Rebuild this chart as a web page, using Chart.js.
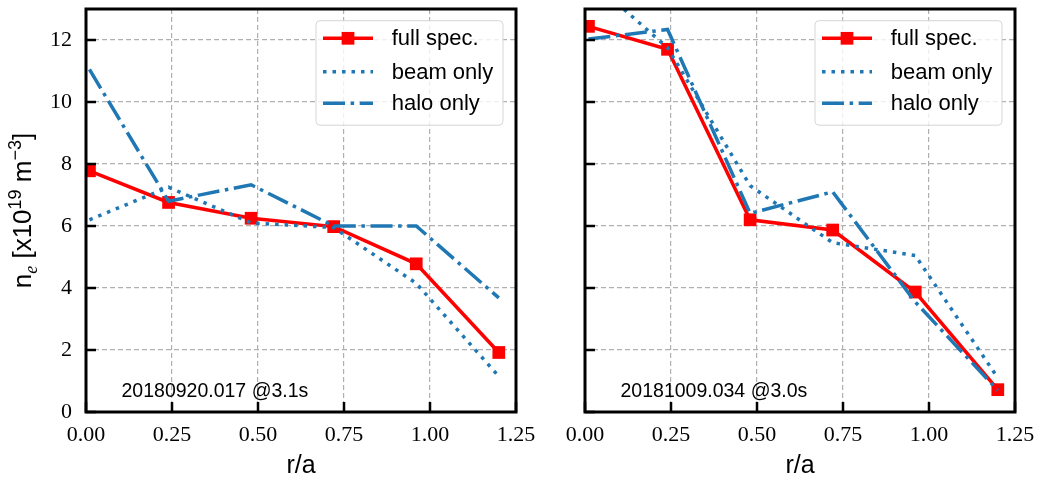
<!DOCTYPE html>
<html>
<head>
<meta charset="utf-8">
<title>Density profiles</title>
<script src="https://cdn.jsdelivr.net/npm/chart.js@4"></script>
<style>
  html, body { margin: 0; padding: 0; background: #ffffff; }
  #wrap { position: relative; width: 1040px; height: 486px; overflow: hidden; }
  canvas { position: absolute; top: 0; }
</style>
</head>
<body>
<div id="wrap">
  <canvas id="panelA" width="540" height="486" style="left:0px"></canvas>
  <canvas id="panelB" width="500" height="486" style="left:540px"></canvas>
</div>
<script>
// Normalised radius r/a of the measurement channels
const radius = [0.01, 0.24, 0.48, 0.72, 0.96, 1.20];

// Shot 20180920.017 at 3.1 s, n_e in 1e19 m^-3
const shotA = '20180920.017 @3.1s';
const fullA = [7.78, 6.76, 6.25, 5.98, 4.78, 1.92];
const beamA = [6.20, 7.25, 6.10, 5.95, 4.15, 1.15];
const haloA = [11.05, 6.80, 7.33, 6.00, 6.00, 3.68];

// Shot 20181009.034 at 3.0 s
const shotB = '20181009.034 @3.0s';
const fullB = [12.44, 11.70, 6.20, 5.87, 3.87, 0.72];
const beamB = [14.00, 11.75, 7.30, 5.46, 5.05, 1.10];
const haloB = [12.03, 12.34, 6.41, 7.10, 3.55, 0.70];

const seriesNames = ['full spec.', 'beam only', 'halo only'];
const xTicks = [0, 0.25, 0.5, 0.75, 1.0, 1.25];
const xTickLabels = ['0.00', '0.25', '0.50', '0.75', '1.00', '1.25'];
const yTicks = [0, 2, 4, 6, 8, 10, 12];
const yTickLabels = ['0', '2', '4', '6', '8', '10', '12'];
const xTitle = 'r/a';

const RED = '#ff0000';
const BLUE = '#1f77b4';
const GRID = '#b0b0b0';
const SANS = '"Liberation Sans", Arial, sans-serif';
const SERIF = '"Liberation Serif", "Times New Roman", serif';

function makeDatasets(full, beam, halo) {
  const pts = arr => radius.map((r, i) => ({ x: r, y: arr[i] }));
  return [
    { label: seriesNames[0], data: pts(full), borderColor: RED, backgroundColor: RED,
      borderWidth: 3.5, pointStyle: 'rect', pointRadius: 9, pointBackgroundColor: RED,
      pointBorderWidth: 0, pointHoverRadius: 9, order: 3 },
    { label: seriesNames[1], data: pts(beam), borderColor: BLUE, backgroundColor: BLUE,
      borderWidth: 3.5, borderDash: [3.5, 6], pointRadius: 0, pointHoverRadius: 0, order: 2 },
    { label: seriesNames[2], data: pts(halo), borderColor: BLUE, backgroundColor: BLUE,
      borderWidth: 3.5, borderDash: [22, 5.6, 3.5, 5.6], pointRadius: 0, pointHoverRadius: 0, order: 1 }
  ];
}

// Frame, inward ticks, shot label, legend and (optionally) the y-axis title
const panelDecor = {
  id: 'panelDecor',
  afterDraw(chart, args, opts) {
    const ctx = chart.ctx;
    const a = chart.chartArea;
    const xs = chart.scales.x, ys = chart.scales.y;
    ctx.save();

    // inward major ticks on bottom and left
    ctx.strokeStyle = '#000';
    ctx.lineWidth = 2.5;
    ctx.beginPath();
    xs.ticks.forEach(t => {
      const px = xs.getPixelForValue(t.value);
      ctx.moveTo(px, a.bottom); ctx.lineTo(px, a.bottom - 10);
    });
    ys.ticks.forEach(t => {
      const py = ys.getPixelForValue(t.value);
      ctx.moveTo(a.left, py); ctx.lineTo(a.left + 10, py);
    });
    ctx.stroke();

    // axes frame
    ctx.lineWidth = 3;
    ctx.strokeRect(a.left, a.top, a.right - a.left, a.bottom - a.top);

    // shot label
    ctx.fillStyle = '#000';
    ctx.font = '19.5px ' + SANS;
    ctx.textAlign = 'left';
    ctx.textBaseline = 'alphabetic';
    ctx.fillText(opts.shot, a.left + 35.5, a.bottom - 15.3);

    // legend box
    const bw = 187, bh = 104.5;
    const bx = a.right - 13 - bw, by = a.top + 11.7;
    ctx.beginPath();
    ctx.roundRect(bx, by, bw, bh, 4);
    ctx.fillStyle = 'rgba(255,255,255,0.8)';
    ctx.fill();
    ctx.lineWidth = 1;
    ctx.strokeStyle = '#d6d6d6';
    ctx.stroke();

    const rows = [17.6, 51, 82.6];
    chart.data.datasets.forEach((ds, i) => {
      const cy = by + rows[i];
      ctx.save();
      ctx.strokeStyle = ds.borderColor;
      ctx.lineWidth = ds.borderWidth;
      ctx.setLineDash(ds.borderDash || []);
      ctx.beginPath();
      ctx.moveTo(bx + 7, cy); ctx.lineTo(bx + 57, cy);
      ctx.stroke();
      ctx.restore();
      if (ds.pointRadius > 0) {
        const s = ds.pointRadius * Math.SQRT1_2;
        ctx.fillStyle = ds.pointBackgroundColor;
        ctx.fillRect(bx + 32 - s, cy - s, 2 * s, 2 * s);
      }
      ctx.fillStyle = '#000';
      ctx.font = '22px ' + SANS;
      ctx.textBaseline = 'middle';
      ctx.fillText(ds.label, bx + 75.7, cy + 1);
    });

    // y-axis title with sub/superscripts
    if (opts.yTitle) {
      const parts = [
        { t: 'n', f: '26px ' + SANS, d: 0 },
        { t: 'e', f: 'italic 18px ' + SERIF, d: 6 },
        { t: ' [x10', f: '26px ' + SANS, d: 0 },
        { t: '19', f: '18px ' + SANS, d: -10 },
        { t: ' m', f: '26px ' + SANS, d: 0 },
        { t: '\u22123', f: '18px ' + SANS, d: -10 },
        { t: ']', f: '26px ' + SANS, d: 0 }
      ];
      let total = 0;
      parts.forEach(p => { ctx.font = p.f; p.w = ctx.measureText(p.t).width; total += p.w; });
      ctx.translate(31, (a.top + a.bottom) / 2);
      ctx.rotate(-Math.PI / 2);
      ctx.fillStyle = '#000';
      ctx.textBaseline = 'alphabetic';
      let x = -total / 2;
      parts.forEach(p => { ctx.font = p.f; ctx.fillText(p.t, x, p.d); x += p.w; });
    }
    ctx.restore();
  }
};

function makePanel(id, full, beam, halo, shot, opts) {
  return new Chart(document.getElementById(id), {
    type: 'line',
    data: { datasets: makeDatasets(full, beam, halo) },
    options: {
      responsive: false,
      animation: false,
      devicePixelRatio: 1,
      events: [],
      layout: { padding: { left: 0, top: 4, right: opts.padRight, bottom: 0 } },
      elements: { line: { tension: 0, borderCapStyle: 'butt', borderJoinStyle: 'miter' } },
      plugins: {
        legend: { display: false },
        tooltip: { enabled: false },
        panelDecor: { shot: shot, yTitle: opts.yTitle }
      },
      scales: {
        x: {
          type: 'linear', min: 0, max: 1.25,
          afterBuildTicks: s => { s.ticks = xTicks.map(v => ({ value: v })); },
          afterFit: s => { s.height = 74; s.paddingLeft = 0; s.paddingRight = 0; },
          ticks: {
            callback: (v, i) => xTickLabels[i],
            font: { family: SERIF, size: 22 }, color: '#000',
            padding: 10, maxRotation: 0, autoSkip: false
          },
          grid: { color: GRID, lineWidth: 1.2, drawTicks: false },
          border: { display: false, dash: [5, 3] },
          title: {
            display: true, text: xTitle, color: '#000',
            font: { family: SANS, size: 25 }, padding: { top: 0, bottom: 5 }
          }
        },
        y: {
          type: 'linear', min: 0, max: 13,
          afterBuildTicks: s => { s.ticks = yTicks.map(v => ({ value: v })); },
          afterFit: s => { s.width = opts.yWidth; s.paddingTop = 0; s.paddingBottom = 0; },
          ticks: {
            display: opts.yLabels,
            callback: (v, i) => yTickLabels[i],
            font: { family: SERIF, size: 22 }, color: '#000', padding: 14
          },
          grid: { color: GRID, lineWidth: 1.2, drawTicks: false },
          border: { display: false, dash: [5, 3] }
        }
      }
    },
    plugins: [panelDecor]
  });
}

makePanel('panelA', fullA, beamA, haloA, shotA, { padRight: 24, yWidth: 86, yLabels: true, yTitle: true });
makePanel('panelB', fullB, beamB, haloB, shotB, { padRight: 25, yWidth: 45, yLabels: false, yTitle: false });
</script>
</body>
</html>
